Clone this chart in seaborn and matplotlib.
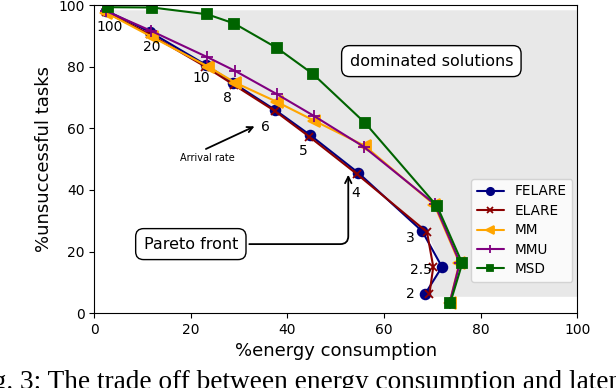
import numpy as np
import pandas as pd
import matplotlib
matplotlib.use("Agg")
import matplotlib.pyplot as plt
import seaborn as sns

# arrival rates (labels next to the FELARE points)
rates = ["100", "20", "10", "8", "6", "5", "4", "3", "2.5", "2"]

felare_x = [2.5, 11.6, 23.2, 28.8, 37.5, 44.7, 54.7, 67.9, 72.0, 68.5]
felare_y = [98.2, 91.2, 80.5, 74.7, 65.9, 57.8, 45.5, 26.6, 15.0, 6.2]

elare_x = [2.5, 11.5, 23.0, 29.0, 37.5, 44.5, 54.5, 68.9, 70.2, 69.4]
elare_y = [97.6, 90.5, 80.0, 74.0, 65.5, 57.3, 45.0, 26.3, 15.0, 6.2]

mm_x = [2.5, 12.0, 23.6, 29.2, 37.9, 45.5, 56.0, 70.4, 75.6, 73.6]
mm_y = [97.5, 89.6, 80.0, 74.8, 68.5, 62.5, 54.3, 35.2, 16.3, 3.4]

mmu_x = [2.5, 11.8, 23.4, 29.2, 37.9, 45.5, 55.8, 70.5, 75.7, 73.6]
mmu_y = [98.0, 91.6, 83.1, 78.6, 71.0, 64.0, 54.0, 35.4, 16.4, 3.4]

msd_x = [2.9, 12.0, 23.4, 29.0, 37.9, 45.3, 56.1, 71.0, 76.2, 73.7]
msd_y = [99.3, 99.2, 97.0, 94.0, 86.0, 77.6, 61.7, 34.7, 16.2, 3.2]

# label positions for the arrival rates
label_x = [3.1, 12.0, 22.2, 27.5, 35.4, 43.3, 54.2, 65.4, 67.6, 65.4]
label_y = [92.9, 86.4, 76.3, 69.8, 60.4, 52.6, 39.0, 24.4, 14.0, 6.2]

series = [
    ("FELARE", felare_x, felare_y, "navy", "o", 7),
    ("ELARE", elare_x, elare_y, "darkred", "x", 6),
    ("MM", mm_x, mm_y, "orange", "<", 8),
    ("MMU", mmu_x, mmu_y, "purple", "+", 8),
    ("MSD", msd_x, msd_y, "darkgreen", "s", 6.5),
]

sns.set_style("ticks", rc={"axes.edgecolor": "black", "text.color": "black",
                           "axes.labelcolor": "black", "xtick.color": "black",
                           "ytick.color": "black"})
plt.rcParams["font.family"] = ["DejaVu Sans"]

fig = plt.figure(figsize=(6.16, 3.88), dpi=100)
ax = fig.add_axes([0.153, 0.193, 0.784, 0.794])

# dominated region (above the front)
poly_x = felare_x[:7] + [elare_x[7], felare_x[8], felare_x[9], 100, 100, felare_x[0]]
poly_y = felare_y[:7] + [elare_y[7], felare_y[8], 5.3, 5.3, 98.3, 98.3]
ax.fill(poly_x, poly_y, color="#e8e8e8", zorder=0, lw=0)

for name, xs, ys, col, mk, ms in series:
    sns.lineplot(x=xs, y=ys, sort=False, estimator=None, color=col, marker=mk,
                 markersize=ms, markeredgecolor=col, markeredgewidth=1.3,
                 linewidth=1.5, label=name, ax=ax)

for lab, lx, ly in zip(rates, label_x, label_y):
    ax.text(lx, ly, lab, ha="center", va="center", fontsize=10)

ax.text(69.8, 81.8, "dominated solutions", ha="center", va="center", fontsize=11.5,
        bbox=dict(boxstyle="round,pad=0.5", fc="white", ec="black"))
ax.annotate("Pareto front", xy=(52.6, 45.8), xytext=(20.0, 22.4),
            ha="center", va="center", fontsize=11.5,
            bbox=dict(boxstyle="round,pad=0.5", fc="white", ec="black"),
            arrowprops=dict(arrowstyle="->", color="black", lw=1.3,
                            connectionstyle="angle,angleA=0,angleB=90,rad=8"))
ax.annotate("", xy=(33.7, 61.0), xytext=(22.6, 52.9),
            arrowprops=dict(arrowstyle="->", color="black", lw=1.3))
ax.text(23.5, 50.5, "Arrival rate", ha="center", va="center", fontsize=7)

ax.set_xlim(0, 100)
ax.set_ylim(0, 100)
ax.set_xticks(range(0, 101, 20))
ax.set_yticks(range(0, 101, 20))
ax.tick_params(labelsize=10)
ax.set_xlabel("%energy consumption", fontsize=13)
ax.set_ylabel("%unsuccessful tasks", fontsize=13)

ax.legend(loc="lower right", bbox_to_anchor=(1.004, 0.08), fontsize=9.8,
          frameon=True, handlelength=2.0, markerscale=0.75, labelspacing=0.4)

# figure caption, cut by the page edge as in the source
fig.text(-0.049, -0.003, "Fig. 3: The trade off between energy consumption and latency",
         fontsize=19.6, family="Liberation Serif", ha="left", va="baseline")

fig.savefig("out.png", dpi=100)
